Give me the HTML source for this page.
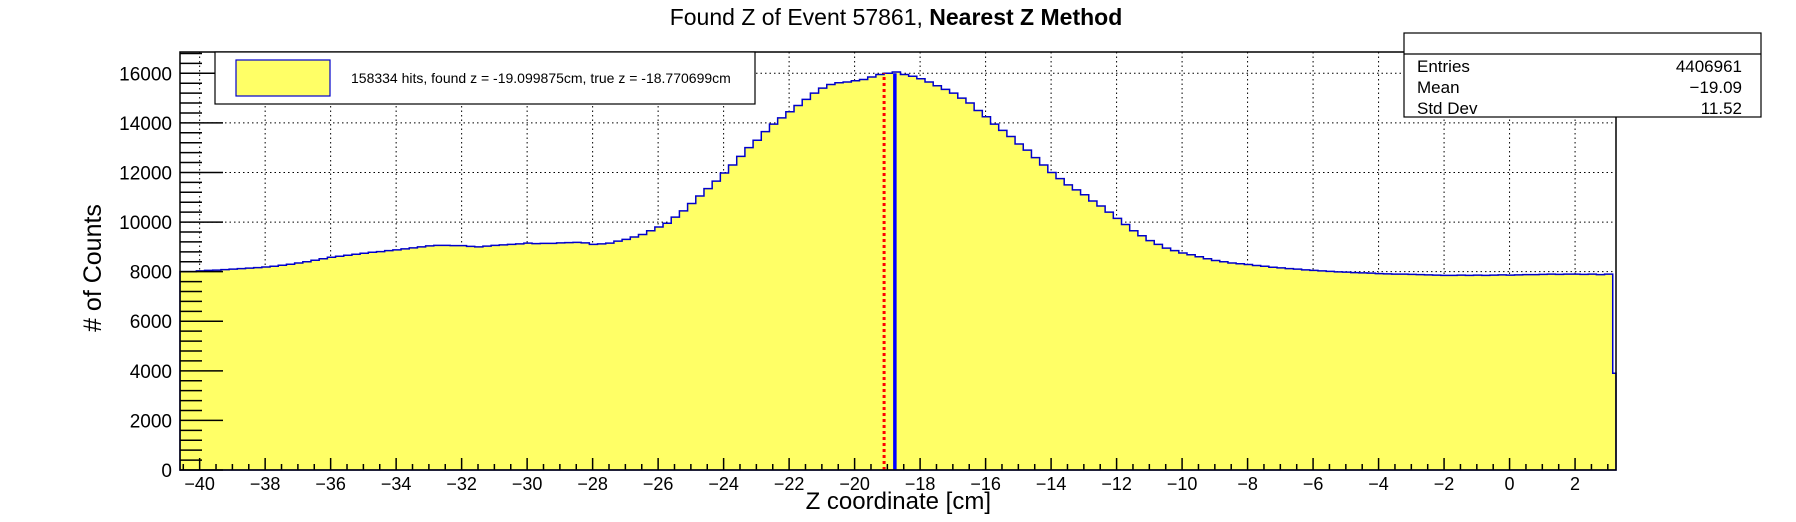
<!DOCTYPE html>
<html><head><meta charset="utf-8"><style>
html,body{margin:0;padding:0;background:#fff;}
svg{display:block;font-family:"Liberation Sans",sans-serif;}
</style></head><body>
<svg id="chart" width="1796" height="522" viewBox="0 0 1796 522" xmlns="http://www.w3.org/2000/svg">
<rect width="1796" height="522" fill="#fff"/>
<text x="896" y="25" text-anchor="middle" font-size="23"><tspan>Found Z of Event 57861,   </tspan><tspan font-weight="bold">Nearest Z Method</tspan></text>
<g id="grid"></g>
<g id="hist"></g>
<g id="marks"></g>
<rect x="180" y="52" width="1436" height="418" fill="none" stroke="#000" stroke-width="1.5"/>
<g id="ticks"></g>
<text transform="translate(101,268) rotate(-90)" text-anchor="middle" font-size="25"># of Counts</text>
<text x="991" y="509" text-anchor="end" font-size="24">Z coordinate [cm]</text>
<g>
<rect x="215" y="52" width="540" height="52" fill="#fff" stroke="#000" stroke-width="1.2"/>
<rect x="236" y="60" width="94" height="36" fill="#ffff66" stroke="#0000cc" stroke-width="1.2"/>
<text x="351" y="83" font-size="14">158334 hits, found z = -19.099875cm, true z = -18.770699cm</text>
</g>
<g>
<rect x="1404" y="33" width="357" height="84" fill="#fff" stroke="#000" stroke-width="1.2"/>
<line x1="1404" y1="54" x2="1761" y2="54" stroke="#000" stroke-width="1.2"/>
<g font-size="17">
<text x="1417" y="72">Entries</text><text x="1742" y="72" text-anchor="end">4406961</text>
<text x="1417" y="93">Mean</text><text x="1742" y="93" text-anchor="end">−19.09</text>
<text x="1417" y="114">Std Dev</text><text x="1742" y="114" text-anchor="end">11.52</text>
</g>
</g>
</svg>
<script>
const xMin = -40.6;
const xMax = 3.25;
const binWidth = 0.25;
const yMax = 16000;
const counts = [8000,8000,8030,8050,8060,8080,8100,8120,8140,8160,8190,
8220,8260,8300,8350,8400,8460,8520,8580,
8620,8660,8700,8740,8780,8810,8850,8880,
8920,8960,9000,9040,9060,9060,9050,9050,
9020,9000,9030,9060,9080,9100,9120,9150,
9130,9140,9140,9160,9170,9180,9160,9100,
9120,9150,9230,9300,9400,9500,9650,9800,
9950,10200,10450,10750,11050,11350,11650,11980,
12300,12650,13000,13300,13650,13950,14200,14450,14700,14950,15200,15400,15550,15620,15650,15700,15750,15850,15950,16000,16050,15950,15880,15780,15650,15500,15350,15200,15000,14800,14500,14250,13950,13700,13450,13150,12900,12600,12300,12000,11750,11500,11300,11100,10850,10650,10400,10150,9900,9650,9450,9250,9100,8950,8850,8750,8680,8600,8520,8450,8400,8350,8320,8290,8250,8220,8180,8150,8120,8100,8070,8050,8030,8010,7990,7980,7960,7950,7940,7920,7910,7900,7900,7890,7880,7870,7860,7850,7850,7860,7850,7860,7850,7860,7870,7860,7870,7880,7880,7890,7900,7890,7900,7900,7890,7900,7880,7900,3900];
const xTickValues = [-40,-38,-36,-34,-32,-30,-28,-26,-24,-22,-20,-18,-16,-14,-12,-10,-8,-6,-4,-2,0,2];
const yTickValues = [0,2000,4000,6000,8000,10000,12000,14000,16000];
const foundZ = -19.099875;
const trueZ = -18.770699;

const NS = "http://www.w3.org/2000/svg";
const L = 180, R = 1616, T = 73.3, B = 470;
const xs = z => L + (z - xMin) / (xMax - xMin) * (R - L);
const ys = v => B - v / yMax * (B - T);
function mk(tag, attrs, parent){ const e = document.createElementNS(NS, tag); for (const k in attrs) e.setAttribute(k, attrs[k]); parent.appendChild(e); return e; }

const grid = document.getElementById('grid');
xTickValues.forEach(v => {
  const g = mk('line', {x1: xs(v), x2: xs(v), y1: 52, y2: B, stroke: '#000', 'stroke-width': 1, 'stroke-dasharray': '1.5,3'}, grid);
  
  
});
yTickValues.forEach(v => {
  if (v === 0) return;
  const g = mk('line', {x1: L, x2: R, y1: ys(v), y2: ys(v), stroke: '#000', 'stroke-width': 1, 'stroke-dasharray': '1.5,3'}, grid);
  
  
});

const hist = document.getElementById('hist');
let d = 'M' + xs(xMin) + ',' + B;
counts.forEach((c, i) => {
  const a = Math.max(xMin, xMin + i * binWidth), b = Math.min(xMax, xMin + (i + 1) * binWidth);
  if (a >= xMax) return;
  d += ' L' + xs(a).toFixed(2) + ',' + ys(c).toFixed(2) + ' L' + xs(b).toFixed(2) + ',' + ys(c).toFixed(2);
});
d += ' L' + xs(xMax) + ',' + B + ' Z';
const hp = mk('path', {d: d, fill: '#ffff66', stroke: '#0000cc', 'stroke-width': 1.5}, hist);



const marks = document.getElementById('marks');
const fl = mk('line', {x1: xs(foundZ), x2: xs(foundZ), y1: B, y2: ys(16000), stroke: '#ff0000', 'stroke-width': 3, 'stroke-dasharray': '3,3'}, marks);


const tl = mk('line', {x1: xs(trueZ), x2: xs(trueZ), y1: B, y2: ys(16000), stroke: '#0000ff', 'stroke-width': 3.5}, marks);



const ticks = document.getElementById('ticks');
for (let v = 0; v <= 16800; v += 400) {
  const y = ys(v); if (y < 52) break;
  const major = v % 2000 === 0;
  mk('line', {x1: L, x2: L + (major ? 43 : 22), y1: y, y2: y, stroke: '#000', 'stroke-width': 1.5}, ticks);
}
yTickValues.forEach(v => {
  const t = mk('text', {x: 172, y: ys(v) + 7, 'text-anchor': 'end', 'font-size': 19}, ticks);
  
  
  t.textContent = v;
});
for (let v = -40.5; v <= 3.25; v += 0.5) {
  const major = Math.abs(v % 2) < 1e-9;
  mk('line', {x1: xs(v), x2: xs(v), y1: B, y2: B - (major ? 12 : 6), stroke: '#000', 'stroke-width': 1.5}, ticks);
}
xTickValues.forEach(v => {
  const t = mk('text', {x: xs(v), y: 490, 'text-anchor': 'middle', 'font-size': 18}, ticks);
  
  
  t.textContent = v < 0 ? '−' + Math.abs(v) : String(v);
});
</script>
</body></html>
